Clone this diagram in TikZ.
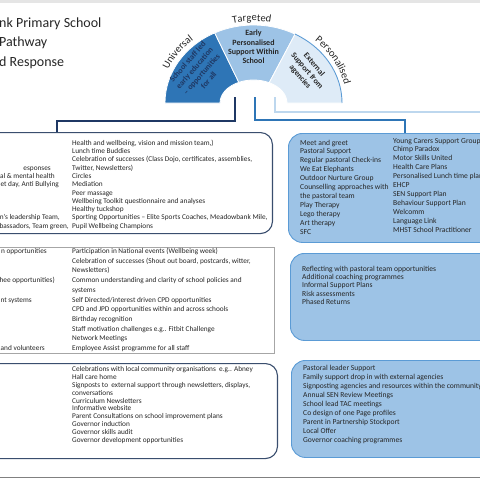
\documentclass[tikz,border=0pt]{standalone}
\usepackage{fontspec}
\setmainfont{Carlito}
\usetikzlibrary{calc,decorations.text}
\definecolor{MBNavy}{HTML}{1F3864}
\definecolor{MBBlue}{HTML}{2E75B6}
\definecolor{MBSky}{HTML}{9DC3E6}
\definecolor{MBPale}{HTML}{DEEBF7}
\definecolor{MBEdge}{HTML}{5B9BD5}
\definecolor{MBWire}{HTML}{BDD7EE}
\definecolor{MBSlate}{HTML}{3A4E6E}
\definecolor{MBGrey}{HTML}{A6A6A6}
\definecolor{MBInk}{HTML}{262626}

\begin{document}
\begin{tikzpicture}[x=1pt,y=-1pt,
  rowtext/.style={font=\fontsize{7.3}{8.3}\selectfont,text=MBInk,inner sep=0pt,anchor=base west},
  planrow/.style={font=\fontsize{7.6}{9}\selectfont,text=MBInk,inner sep=0pt,anchor=base west},
  cuttext/.style={font=\fontsize{7.3}{8.3}\selectfont,text=MBInk,inner sep=0pt,anchor=base east},
  ringtext/.style={font=\bfseries\fontsize{8}{9.3}\selectfont,align=center,inner sep=0pt},
  titletext/.style={font=\fontsize{14}{19}\selectfont,text=MBInk,inner sep=0pt,anchor=west},
  pupilbox/.style={draw=MBSlate,line width=1.1pt,rounded corners=12pt,fill=white,inner sep=0pt},
  staffbox/.style={draw=MBGrey,line width=0.9pt,fill=white,inner sep=0pt},
  planbox/.style={draw=MBEdge,line width=0.9pt,rounded corners=14pt,fill=MBSky,inner sep=0pt}]
\useasboundingbox (0,0) rectangle (480,480);
\clip (0,0) rectangle (480,480);
\draw[black!10,line width=3pt] (0,1) -- (480,1);
\draw[black!50,line width=1.8pt] (0,477.5) -- (480,477.5);

\node[titletext] (titleA) at (-1,24) {nk Primary School};
\node[titletext] (titleB) at (-1,43) {Pathway};
\node[titletext] (titleC) at (-1,63) {d Response};

\coordinate (hub) at (253.5,103);
\fill[MBBlue,draw=white,line width=0.8pt] ($(hub)+(180:88.5pt and 78pt)$) arc[start angle=180,end angle=116,x radius=88.5pt,y radius=78pt]
  -- ($(hub)+(116:33.5pt and 23pt)$) arc[start angle=116,end angle=180,x radius=33.5pt,y radius=23pt] -- cycle;
\fill[MBSky,draw=white,line width=0.8pt] ($(hub)+(116:88.5pt and 78pt)$) arc[start angle=116,end angle=62,x radius=88.5pt,y radius=78pt]
  -- ($(hub)+(62:33.5pt and 23pt)$) arc[start angle=62,end angle=116,x radius=33.5pt,y radius=23pt] -- cycle;
\fill[MBPale,draw=white,line width=0.8pt] ($(hub)+(62:88.5pt and 78pt)$) arc[start angle=62,end angle=0,x radius=88.5pt,y radius=78pt]
  -- ($(hub)+(0:33.5pt and 23pt)$) arc[start angle=0,end angle=62,x radius=33.5pt,y radius=23pt] -- cycle;
\draw[MBEdge,line width=0.9pt] ($(hub)+(62:88.5pt and 78pt)$) arc[start angle=62,end angle=0,x radius=88.5pt,y radius=78pt];

\node[ringtext,text=MBNavy,rotate=49] (uniText) at (198,71) {School staff led\\early education\\-- opportunities\\for all};
\node[ringtext,text=MBInk] (tarText) at (253.5,47) {Early\\Personalised\\Support Within\\School};
\node[ringtext,text=MBInk,rotate=-49] (perText) at (307,71) {External\\Support from\\agencies};

\path[decorate,decoration={text along path,text align=center,text={|\fontsize{10.5}{12}\selectfont\color{MBInk}|Universal}}]
  ($(hub)+(174:93pt and 83pt)$) arc[start angle=174,end angle=114,x radius=93pt,y radius=83pt];
\path[decorate,decoration={text along path,text align=center,text={|\fontsize{10.5}{12}\selectfont\color{MBInk}|Targeted}}]
  ($(hub)+(116:92pt and 82pt)$) arc[start angle=116,end angle=66,x radius=92pt,y radius=82pt];
\path[decorate,decoration={text along path,text align=center,text={|\fontsize{10.5}{12}\selectfont\color{MBInk}|Personalised}}]
  ($(hub)+(64:93pt and 83pt)$) arc[start angle=64,end angle=-4,x radius=93pt,y radius=83pt];

\node[pupilbox,minimum width=473pt,minimum height=101pt,anchor=north east] (pupilBox) at (273,132) {};
\node[staffbox,minimum width=475pt,minimum height=106pt,anchor=north east] (staffBox) at (275,247) {};
\node[pupilbox,minimum width=478pt,minimum height=95pt,anchor=north east] (communityBox) at (278,363) {};
\node[planbox,minimum width=300pt,minimum height=109pt,anchor=north west] (pupilPlanBox) at (288,133) {};
\node[planbox,minimum width=300pt,minimum height=87pt,anchor=north west] (staffPlanBox) at (290,253) {};
\node[planbox,minimum width=300pt,minimum height=97pt,anchor=north west] (familyPlanBox) at (291,360) {};

\coordinate (uniFoot) at (235,97);
\coordinate (tarFoot) at (255,97);
\coordinate (perFoot) at (275,97);
\coordinate (uniDrop) at (57,132);
\coordinate (tarDrop) at (405,133);
\coordinate (perEnd) at (480,112);
\draw[MBWire,line width=1.4pt] (perFoot) |- (perEnd);
\draw[MBBlue,line width=1.2pt] (tarFoot) -- ++(0,23) -| (tarDrop);
\draw[MBNavy,line width=1.4pt] (uniFoot) -- ++(0,24) -| (uniDrop);

\foreach \row [count=\i] in {{Health and wellbeing, vision and mission team,)},Lunch time Buddies,
  {Celebration of successes (Class Dojo, certificates, assemblies,},{Twitter, Newsletters)},Circles,Mediation,
  Peer massage,Wellbeing Toolkit questionnaire and analyses,Healthy tuckshop,
  {Sporting Opportunities -- Elite Sports Coaches, Meadowbank Mile,},Pupil Wellbeing Champions}
  \node[rowtext] (pupilRow\i) at (72,{145.2+8.3*(\i-1)}) {\row};
\node[cuttext] (pupilCutA) at (51,170.1) {esponses};
\node[cuttext] (pupilCutB) at (55,178.4) {cal \& mental health};
\node[cuttext] (pupilCutC) at (59,186.7) {et day, Anti Bullying};
\node[cuttext] (pupilCutD) at (60,219.9) {n's leadership Team,};
\node[cuttext] (pupilCutE) at (69,228.2) {bassadors, Team green,};

\foreach \row [count=\i] in {Participation in National events (Wellbeing week),
  {Celebration of successes (Shout out board, postcards, witter,},Newsletters),
  Common understanding and clarity of school policies and,systems,
  Self Directed/interest driven CPD opportunities,CPD and JPD opportunities within and across schools,
  Birthday recognition,Staff motivation challenges e.g.. Fitbit Challenge,Network Meetings,
  Employee Assist programme for all staff}
  \node[rowtext] (staffRow\i) at (72,{253.5+9.7*(\i-1)}) {\row};
\node[cuttext] (staffCutA) at (47,253.5) {n opportunities};
\node[cuttext] (staffCutB) at (55,282.6) {hee opportunities)};
\node[cuttext] (staffCutC) at (32,302) {nt systems};
\node[cuttext] (staffCutD) at (45,350.5) {and volunteers};

\foreach \row [count=\i] in {Celebrations with local community organisations\ \ e.g.. Abney,Hall care home,
  {Signposts to\ \ external support through newsletters, displays,},conversations,Curriculum Newsletters,
  Informative website,Parent Consultations on school improvement plans,Governor induction,
  Governor skills audit,Governor development opportunities}
  \node[rowtext] (communityRow\i) at (72,{371.2+7.95*(\i-1)}) {\row};

\foreach \row [count=\i] in {Meet and greet,Pastoral Support,Regular pastoral Check-ins,We Eat Elephants,
  Outdoor Nurture Group,Counselling approaches with,the pastoral team,Play Therapy,Lego therapy,Art therapy,SFC}
  \node[planrow] (pupilPlanA\i) at (300,{145+8.96*(\i-1)}) {\row};
\foreach \row [count=\i] in {Young Carers Support Group,Chimp Paradox,Motor Skills United,Health Care Plans,
  Personalised Lunch time plans,EHCP,SEN Support Plan,Behaviour Support Plan,Welcomm,Language Link,MHST School Practitioner}
  \node[planrow] (pupilPlanB\i) at (393,{143+8.9*(\i-1)}) {\row};
\foreach \row [count=\i] in {Reflecting with pastoral team opportunities,Additional coaching programmes,
  Informal Support Plans,Risk assessments,Phased Returns}
  \node[planrow] (staffPlan\i) at (302,{271+8.35*(\i-1)}) {\row};
\foreach \row [count=\i] in {Pastoral leader Support,Family support drop in with external agencies,
  Signposting agencies and resources within the community,Annual SEN Review Meetings,School lead TAC meetings,
  Co design of one Page profiles,Parent in Partnership Stockport,Local Offer,Governor coaching programmes}
  \node[planrow] (familyPlan\i) at (303,{370+9*(\i-1)}) {\row};
\end{tikzpicture}
\end{document}
